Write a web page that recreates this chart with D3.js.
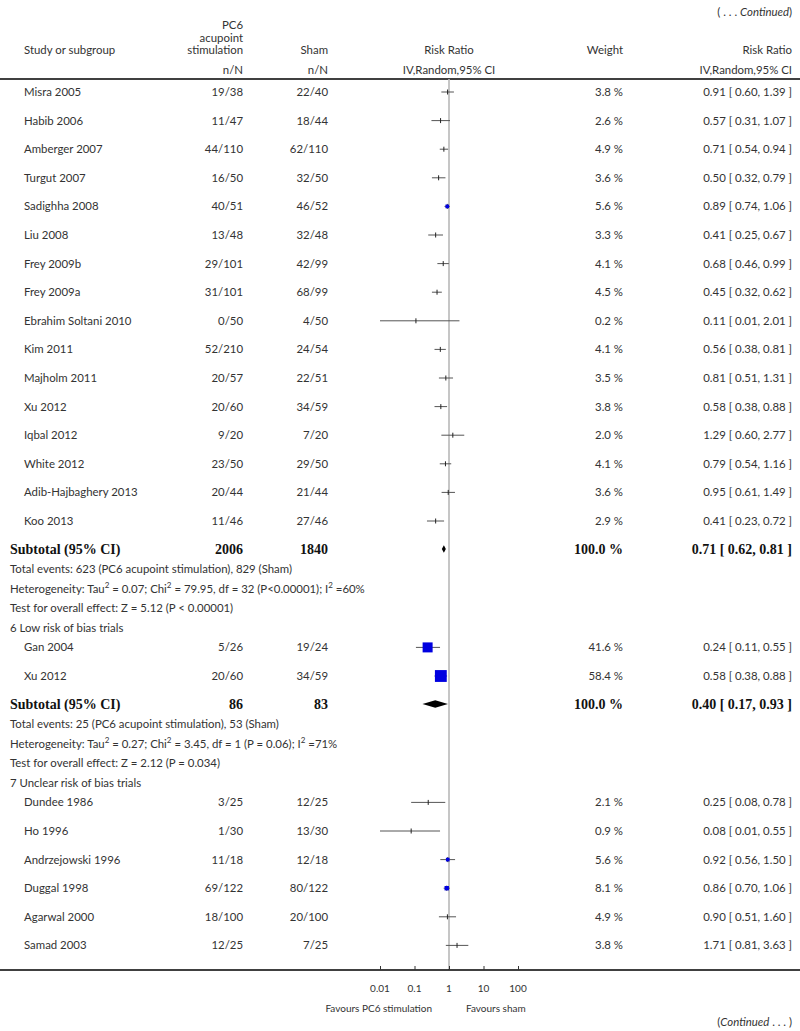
<!DOCTYPE html>
<html>
<head>
<meta charset="utf-8">
<script src="https://cdn.jsdelivr.net/npm/d3@7"></script>
<style>
  body { margin: 0; background: #fff; }
  text { font-family: Lato, "Open Sans", sans-serif; font-size: 11.4px; fill: #333; }
  .bold { font-family: "Liberation Serif", "DejaVu Serif", serif; font-weight: bold; font-size: 14px; fill: #111; }
</style>
</head>
<body>
<div id="chart"></div>
<script>
// study rows: name, PC6 n/N, sham n/N, weight %, RR, lower, upper
const group1 = [
  ["Misra 2005", "19/38", "22/40", 3.8, 0.91, 0.60, 1.39],
  ["Habib 2006", "11/47", "18/44", 2.6, 0.57, 0.31, 1.07],
  ["Amberger 2007", "44/110", "62/110", 4.9, 0.71, 0.54, 0.94],
  ["Turgut 2007", "16/50", "32/50", 3.6, 0.50, 0.32, 0.79],
  ["Sadighha 2008", "40/51", "46/52", 5.6, 0.89, 0.74, 1.06],
  ["Liu 2008", "13/48", "32/48", 3.3, 0.41, 0.25, 0.67],
  ["Frey 2009b", "29/101", "42/99", 4.1, 0.68, 0.46, 0.99],
  ["Frey 2009a", "31/101", "68/99", 4.5, 0.45, 0.32, 0.62],
  ["Ebrahim Soltani 2010", "0/50", "4/50", 0.2, 0.11, 0.01, 2.01],
  ["Kim 2011", "52/210", "24/54", 4.1, 0.56, 0.38, 0.81],
  ["Majholm 2011", "20/57", "22/51", 3.5, 0.81, 0.51, 1.31],
  ["Xu 2012", "20/60", "34/59", 3.8, 0.58, 0.38, 0.88],
  ["Iqbal 2012", "9/20", "7/20", 2.0, 1.29, 0.60, 2.77],
  ["White 2012", "23/50", "29/50", 4.1, 0.79, 0.54, 1.16],
  ["Adib-Hajbaghery 2013", "20/44", "21/44", 3.6, 0.95, 0.61, 1.49],
  ["Koo 2013", "11/46", "27/46", 2.9, 0.41, 0.23, 0.72]
];
const subtotal1 = ["2006", "1840", "100.0 %", 0.71, 0.62, 0.81];
const notes1 = [
  "Total events: 623 (PC6 acupoint stimulation), 829 (Sham)",
  "Heterogeneity: Tau^2 = 0.07; Chi^2 = 79.95, df = 32 (P<0.00001); I^2 =60%",
  "Test for overall effect: Z = 5.12 (P < 0.00001)"
];

const header2 = "6 Low risk of bias trials";
const group2 = [
  ["Gan 2004", "5/26", "19/24", 41.6, 0.24, 0.11, 0.55],
  ["Xu 2012", "20/60", "34/59", 58.4, 0.58, 0.38, 0.88]
];
const subtotal2 = ["86", "83", "100.0 %", 0.40, 0.17, 0.93];
const notes2 = [
  "Total events: 25 (PC6 acupoint stimulation), 53 (Sham)",
  "Heterogeneity: Tau^2 = 0.27; Chi^2 = 3.45, df = 1 (P = 0.06); I^2 =71%",
  "Test for overall effect: Z = 2.12 (P = 0.034)"
];

const header3 = "7 Unclear risk of bias trials";
const group3 = [
  ["Dundee 1986", "3/25", "12/25", 2.1, 0.25, 0.08, 0.78],
  ["Ho 1996", "1/30", "13/30", 0.9, 0.08, 0.01, 0.55],
  ["Andrzejowski 1996", "11/18", "12/18", 5.6, 0.92, 0.56, 1.50],
  ["Duggal 1998", "69/122", "80/122", 8.1, 0.86, 0.70, 1.06],
  ["Agarwal 2000", "18/100", "20/100", 4.9, 0.90, 0.51, 1.60],
  ["Samad 2003", "12/25", "7/25", 3.8, 1.71, 0.81, 3.63]
];

const axisTicks = [0.01, 0.1, 1, 10, 100];
const axisTickLabels = ["0.01", "0.1", "1", "10", "100"];

const width = 800, height = 1031;
const svg = d3.select('#chart').append('svg')
  .attr('width', width)
  .attr('height', height);

// log scale for risk ratio
const x = d3.scaleLog().domain([0.01, 100]).range([380, 518]);

// build row list with vertical positions
const rows = [];
let y = 92;
function addStudies(list) {
  list.forEach((s, i) => {
    if (i > 0) y += 28.6;
    rows.push({ type: 'study', y: y, d: s });
  });
}
function addSubtotal(s) {
  y += 28;
  rows.push({ type: 'subtotal', y: y, d: s });
}
function addNotes(list) {
  list.forEach(n => { y += 19.8; rows.push({ type: 'note', y: y, d: n }); });
}
function addHeader(h) {
  y += 19.8;
  rows.push({ type: 'header', y: y, d: h });
  y += 19.2;
}
addStudies(group1);
addSubtotal(subtotal1);
addNotes(notes1);
addHeader(header2);
addStudies(group2);
addSubtotal(subtotal2);
addNotes(notes2);
addHeader(header3);
addStudies(group3);

const colPC6 = 243, colSham = 328, colWeight = 623, colRR = 792;
const lineTop = 79, axisY = 970;

// top caption
const cont = svg.append('text').attr('x', colRR).attr('y', 16).attr('text-anchor', 'end');
cont.append('tspan').text('( . . . ');
cont.append('tspan').style('font-style', 'italic').text('Continued');
cont.append('tspan').text(')');

// column headers
svg.append('text').attr('x', 24).attr('y', 54).text('Study or subgroup');
['PC6', 'acupoint', 'stimulation'].forEach((t, i) => {
  svg.append('text').attr('x', colPC6).attr('y', 29 + i * 12.5).attr('text-anchor', 'end').text(t);
});
svg.append('text').attr('x', colSham).attr('y', 54).attr('text-anchor', 'end').text('Sham');
svg.append('text').attr('x', colPC6).attr('y', 74).attr('text-anchor', 'end').text('n/N');
svg.append('text').attr('x', colSham).attr('y', 74).attr('text-anchor', 'end').text('n/N');
svg.append('text').attr('x', x(1)).attr('y', 54).attr('text-anchor', 'middle').text('Risk Ratio');
svg.append('text').attr('x', x(1)).attr('y', 74).attr('text-anchor', 'middle').text('IV,Random,95% CI');
svg.append('text').attr('x', colWeight).attr('y', 54).attr('text-anchor', 'end').text('Weight');
svg.append('text').attr('x', colRR).attr('y', 54).attr('text-anchor', 'end').text('Risk Ratio');
svg.append('text').attr('x', colRR).attr('y', 74).attr('text-anchor', 'end').text('IV,Random,95% CI');

svg.append('line')
  .attr('x1', 0).attr('x2', width).attr('y1', lineTop).attr('y2', lineTop)
  .style('stroke', '#000').style('stroke-width', 1.5);

// line of no effect
svg.append('line')
  .attr('x1', x(1)).attr('x2', x(1)).attr('y1', lineTop).attr('y2', axisY)
  .style('stroke', '#b8b8b8').style('stroke-width', 1.6);

const fmt = d3.format('.2f');

// text with "^2" drawn as superscript
function addSuper(sel, str) {
  const parts = str.split('^2');
  parts.forEach((p, i) => {
    sel.append('tspan').text(p);
    if (i < parts.length - 1) {
      sel.append('tspan')
        .attr('baseline-shift', 'super')
        .style('font-size', '8px')
        .text('2');
    }
  });
}

rows.forEach(r => {
  const ty = r.y + 4;
  if (r.type === 'study') {
    const [name, a, b, w, rr, lo, hi] = r.d;
    svg.append('text').attr('x', 24).attr('y', ty).text(name);
    svg.append('text').attr('x', colPC6).attr('y', ty).attr('text-anchor', 'end').text(a);
    svg.append('text').attr('x', colSham).attr('y', ty).attr('text-anchor', 'end').text(b);
    svg.append('text').attr('x', colWeight).attr('y', ty).attr('text-anchor', 'end').text(w.toFixed(1) + ' %');
    svg.append('text').attr('x', colRR).attr('y', ty).attr('text-anchor', 'end')
      .text(`${fmt(rr)} [ ${fmt(lo)}, ${fmt(hi)} ]`);
    // CI
    svg.append('line')
      .attr('x1', x(lo)).attr('x2', x(hi)).attr('y1', r.y).attr('y2', r.y)
      .style('stroke', '#555').style('stroke-width', 1);
    svg.append('line')
      .attr('x1', x(rr)).attr('x2', x(rr)).attr('y1', r.y - 2.5).attr('y2', r.y + 2.5)
      .style('stroke', '#222').style('stroke-width', 1);
    if (w >= 5) {
      const s = 1.55 * Math.sqrt(w);
      svg.append('rect')
        .attr('x', x(rr) - s / 2).attr('y', r.y - s / 2)
        .attr('width', s).attr('height', s)
        .style('fill', '#0000e0');
    }
  } else if (r.type === 'subtotal') {
    const [a, b, w, rr, lo, hi] = r.d;
    const by = r.y + 5;
    svg.append('text').attr('class', 'bold').attr('x', 10).attr('y', by).text('Subtotal (95% CI)');
    svg.append('text').attr('class', 'bold').attr('x', colPC6).attr('y', by).attr('text-anchor', 'end').text(a);
    svg.append('text').attr('class', 'bold').attr('x', colSham).attr('y', by).attr('text-anchor', 'end').text(b);
    svg.append('text').attr('class', 'bold').attr('x', colWeight).attr('y', by).attr('text-anchor', 'end').text(w);
    svg.append('text').attr('class', 'bold').attr('x', colRR).attr('y', by).attr('text-anchor', 'end')
      .text(`${fmt(rr)} [ ${fmt(lo)}, ${fmt(hi)} ]`);
    const pts = [[x(lo), r.y], [x(rr), r.y - 3.8], [x(hi), r.y], [x(rr), r.y + 3.8]];
    svg.append('path')
      .attr('d', d3.line()(pts) + 'Z')
      .style('fill', '#000');
  } else if (r.type === 'note') {
    addSuper(svg.append('text').attr('x', 10).attr('y', ty), r.d);
  } else {
    svg.append('text').attr('x', 10).attr('y', ty).text(r.d);
  }
});

// bottom axis
svg.append('line')
  .attr('x1', 0).attr('x2', width).attr('y1', axisY).attr('y2', axisY)
  .style('stroke', '#000').style('stroke-width', 1.5);

const axis = d3.axisTop(x).tickValues(axisTicks).tickSize(4).tickFormat('');
const ag = svg.append('g').attr('transform', `translate(0,${axisY})`).call(axis);
ag.select('.domain').remove();
ag.selectAll('line').style('stroke', '#333');

svg.selectAll('text.tick-label')
  .data(axisTicks)
  .enter()
  .append('text')
  .attr('class', 'tick-label')
  .attr('x', d => x(d))
  .attr('y', 992)
  .attr('text-anchor', 'middle')
  .style('font-size', '10px')
  .text((d, i) => axisTickLabels[i]);

svg.append('text').attr('x', 432).attr('y', 1012).attr('text-anchor', 'end')
  .style('font-size', '10px').text('Favours PC6 stimulation');
svg.append('text').attr('x', 466).attr('y', 1012)
  .style('font-size', '10px').text('Favours sham');

const cont2 = svg.append('text').attr('x', colRR).attr('y', 1026).attr('text-anchor', 'end');
cont2.append('tspan').text('(');
cont2.append('tspan').style('font-style', 'italic').text('Continued');
cont2.append('tspan').text(' . . . )');
</script>
</body>
</html>
